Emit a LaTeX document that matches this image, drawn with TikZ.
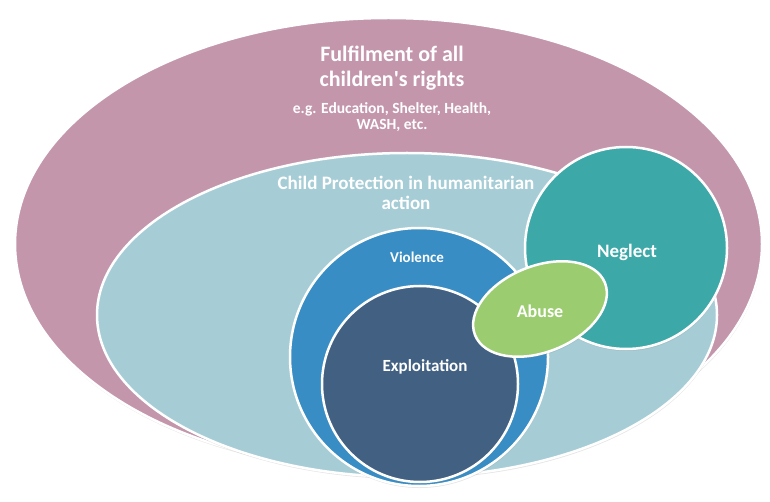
\documentclass[tikz,border=0pt]{standalone}
\usepackage{fontspec}
\setmainfont{Carlito}
\usetikzlibrary{shapes.geometric, shadows}
\definecolor{rightspink}{RGB}{196,150,172}
\definecolor{cpblue}{RGB}{166,205,214}
\definecolor{violenceblue}{RGB}{55,141,196}
\definecolor{exploitblue}{RGB}{66,96,130}
\definecolor{neglectteal}{RGB}{60,168,168}
\definecolor{abusegreen}{RGB}{156,204,112}
\tikzstyle{area} = [ellipse, draw=white, line width=2.5pt, inner sep=0pt, drop shadow={opacity=0.2, shadow xshift=0.5pt, shadow yshift=-2pt}]
\tikzstyle{harm} = [circle, draw=white, line width=2.5pt, inner sep=0pt, drop shadow={opacity=0.2, shadow xshift=0.5pt, shadow yshift=-2pt}]
\tikzstyle{caption} = [text=white, font=\bfseries, align=center, inner sep=0pt]

\begin{document}
\begin{tikzpicture}[x=1pt, y=1pt]
		\fill[white] (0,0) rectangle (770,-502);
		\useasboundingbox (0,0) rectangle (770,-502);
		\node (rights) [area, fill=rightspink, minimum width=747pt, minimum height=452pt] at (388.5,-244) {};
		\node (cp) [area, fill=cpblue, minimum width=620pt, minimum height=324pt] at (407,-315) {};
		\node (violence) [harm, fill=violenceblue, minimum size=258pt] at (419,-357) {};
		\node (exploit) [harm, fill=exploitblue, minimum size=196pt] at (420,-384) {};
		\node (neglect) [harm, fill=neglectteal, minimum size=202pt] at (626,-248) {};
		\node (abuse) [area, fill=abusegreen, minimum width=140pt, minimum height=86pt, rotate=22] at (540,-309) {};
		% captions
		\node (rightstext) [caption, font=\bfseries\fontsize{22}{25}\selectfont] at (392,-68) {Fulfilment of all\\children\textquotesingle s rights};
		\node (rightsexample) [caption, font=\bfseries\fontsize{15.5}{16}\selectfont] at (392,-117) {e.g. Education, Shelter, Health,\\WASH, etc.};
		\node (cptext) [caption, font=\bfseries\fontsize{19}{20}\selectfont] at (406,-193) {Child Protection in humanitarian\\action};
		\node (violencetext) [caption, font=\bfseries\fontsize{15}{17}\selectfont] at (417,-257) {Violence};
		\node (neglecttext) [caption, font=\bfseries\fontsize{19}{21}\selectfont] at (627,-252) {Neglect};
		\node (abusetext) [caption, font=\bfseries\fontsize{18}{20}\selectfont] at (540,-311) {Abuse};
		\node (exploittext) [caption, font=\bfseries\fontsize{17}{19}\selectfont] at (425,-367) {Exploitation};
\end{tikzpicture}
\end{document}
